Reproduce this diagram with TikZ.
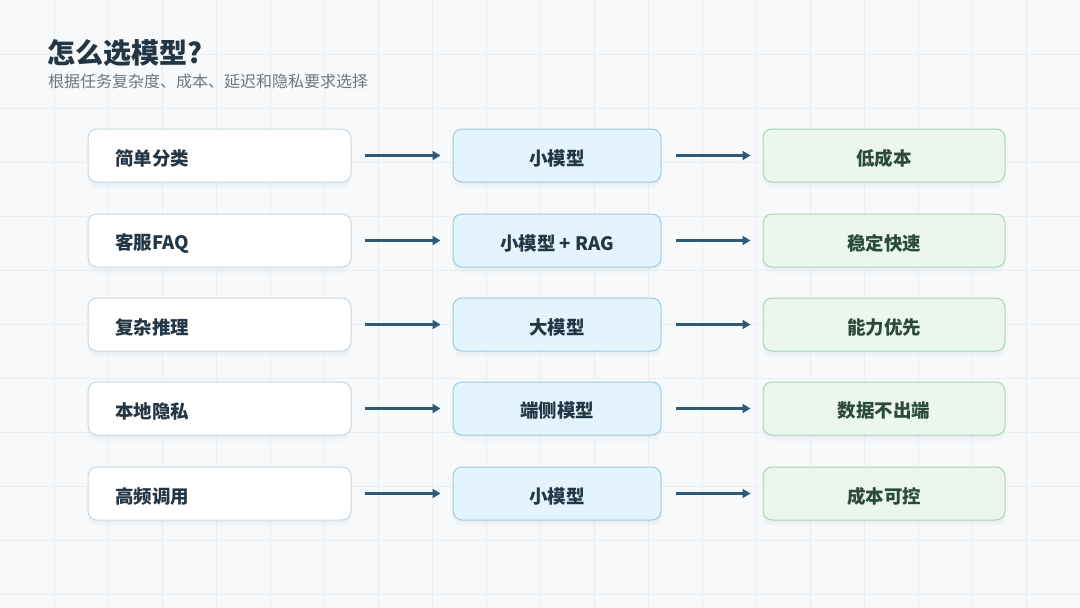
\documentclass[tikz,border=0pt]{standalone}
\usepackage{fontspec}
\newfontfamily\cjk{Noto Sans CJK SC}
\usetikzlibrary{arrows.meta}
\definecolor{bg}{HTML}{F7F9FB}
\definecolor{gridc}{HTML}{EAEFF3}
\definecolor{txt}{HTML}{243645}
\definecolor{subt}{HTML}{6B7780}
\definecolor{bAdraw}{HTML}{C9D7E1}
\definecolor{bBfill}{HTML}{E4F4FD}
\definecolor{bBdraw}{HTML}{9FC9E0}
\definecolor{bCfill}{HTML}{EBF7ED}
\definecolor{bCdraw}{HTML}{A9D5B1}
\definecolor{gtxt}{HTML}{2B4A3A}
\definecolor{arr}{HTML}{2E5A78}
\definecolor{shad}{HTML}{7D94A6}
\tikzset{
  x=1pt, y=-1pt,
  boxbase/.style={rounded corners=9pt, line width=1pt,
    preaction={fill=shad, fill opacity=0.04, transform canvas={yshift=-6pt}},
    preaction={fill=shad, fill opacity=0.05, transform canvas={yshift=-3pt}}},
  inbox/.style={boxbase, draw=bAdraw, fill=white},
  modelbox/.style={boxbase, draw=bBdraw, fill=bBfill},
  resbox/.style={boxbase, draw=bCdraw, fill=bCfill},
  lbl/.style={inner sep=0, font=\cjk\bfseries\fontsize{18.5}{22}\selectfont},
  link/.style={draw=arr, line width=2.6pt, -{Triangle[length=8pt,width=9pt]}}
}
\begin{document}
\begin{tikzpicture}
\fill[bg] (0,0) rectangle (1080,608);
\useasboundingbox (0,0) rectangle (1080,608);
\foreach \k in {1,...,19} \draw[gridc, line width=0.8pt] (54*\k,0) -- (54*\k,608);
\foreach \k in {1,...,11} \draw[gridc, line width=0.8pt] (0,54*\k) -- (1080,54*\k);
\node[anchor=base west, inner sep=0, text=txt, font=\cjk\bfseries\fontsize{28}{32}\selectfont] (title) at (47,63) {怎么选模型?};
\node[anchor=base west, inner sep=0, text=subt, font=\cjk\fontsize{16}{19}\selectfont] (sub) at (48,87) {根据任务复杂度、成本、延迟和隐私要求选择};
\foreach \y/\a/\b/\c/\n in {155.5/简单分类/小模型/低成本/1, 240.5/客服FAQ/小模型 + RAG/稳定快速/2, 324.5/复杂推理/大模型/能力优先/3, 408.5/本地隐私/端侧模型/数据不出端/4, 493.5/高频调用/小模型/成本可控/5}{
  \node[inbox, minimum width=263pt, minimum height=53pt] (in\n) at (219.5,\y) {};
  \node[modelbox, minimum width=208pt, minimum height=53pt] (m\n) at (557,\y) {};
  \node[resbox, minimum width=242pt, minimum height=53pt] (r\n) at (884,\y) {};
  \node[lbl, anchor=west, text=txt] (inl\n) at (115,\y+2.5) {\a};
  \node[lbl, text=txt] (ml\n) at (557,\y+2.5) {\b};
  \node[lbl, text=gtxt] (rl\n) at (884,\y+2.5) {\c};
  \draw[link] ([xshift=13pt]in\n.east) -- ([xshift=-12pt]m\n.west);
  \draw[link] ([xshift=14pt]m\n.east) -- ([xshift=-12pt]r\n.west);
}
\end{tikzpicture}
\end{document}
